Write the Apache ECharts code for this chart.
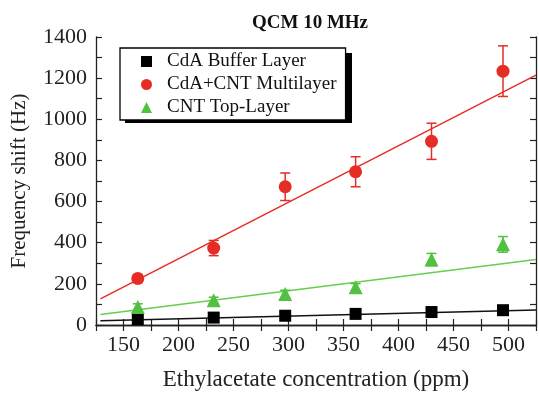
<!DOCTYPE html>
<html>
<head>
<meta charset="utf-8">
<script src="https://cdn.jsdelivr.net/npm/echarts@6/dist/echarts.min.js"></script>
<style>
  html, body { margin: 0; padding: 0; background: #fff; }
  #main { width: 539px; height: 396px; }
</style>
</head>
<body>
<div id="main"></div>
<script>
// 浓度 (ppm)
var conc = [163, 232, 297, 361, 430, 495];
// 三组频移数据 (Hz)
var bufferVals = [29, 36, 45, 54, 63, 72];
var bufferErr = [0, 0, 0, 0, 0, 0];
var multiVals = [226, 374, 672, 745, 893, 1234];
var multiErr = [20, 37, 67, 73, 88, 123];
var topVals = [88, 120, 151, 183, 318, 392];
var topErr = [15, 15, 18, 18, 30, 38];
// 拟合直线端点
var fitX = [129, 525];
var bufferFit = [21, 73];
var multiFit = [127, 1215];
var topFit = [51, 318];

var names = ['CdA Buffer Layer', 'CdA+CNT Multilayer', 'CNT Top-Layer'];
var colBlack = '#000000', colRed = '#e52d26', colGreen = '#52c040';
var FONT = 'Liberation Serif';

function pts(xs, ys) {
	var out = [];
	for (var i = 0; i < xs.length; i++) out.push([xs[i], ys[i]]);
	return out;
}
function errPts(xs, ys, es) {
	var out = [];
	for (var i = 0; i < xs.length; i++) out.push([xs[i], ys[i], es[i]]);
	return out;
}
// 误差棒
function errSeries(data, color) {
	return {
		type: 'custom',
		z: 3,
		silent: true,
		data: data,
		renderItem: function (params, api) {
			var x = api.value(0), y = api.value(1), e = api.value(2);
			if (!e) return null;
			var top = api.coord([x, y + e]);
			var bot = api.coord([x, y - e]);
			var w = 5;
			var st = { stroke: color, lineWidth: 1.5 };
			return {
				type: 'group',
				children: [
					{ type: 'line', shape: { x1: top[0], y1: top[1], x2: bot[0], y2: bot[1] }, style: st },
					{ type: 'line', shape: { x1: top[0] - w, y1: top[1], x2: top[0] + w, y2: top[1] }, style: st },
					{ type: 'line', shape: { x1: bot[0] - w, y1: bot[1], x2: bot[0] + w, y2: bot[1] }, style: st }
				]
			};
		}
	};
}
function fitSeries(ys, color) {
	return {
		type: 'line',
		data: pts(fitX, ys),
		symbol: 'none',
		z: 2,
		silent: true,
		lineStyle: { color: color, width: 1.5 }
	};
}

function axisBase() {
	return {
		axisLine: { show: true, lineStyle: { color: '#222', width: 1.3 } },
		axisTick: { show: true, inside: true, length: 6, lineStyle: { color: '#222', width: 1.2 } },
		splitLine: { show: false }
	};
}

var chart = echarts.init(document.getElementById('main'));
var option = {
	animation: false,
	backgroundColor: '#ffffff',
	title: {
		text: 'QCM 10 MHz',
		left: 305,
		textAlign: 'center',
		top: 9,
		textStyle: { fontFamily: FONT, fontSize: 19, fontWeight: 'bold', color: '#111' }
	},
	grid: { left: 96, right: 3, top: 37, bottom: 66 },
	legend: {
		left: 120,
		top: 48,
		orient: 'vertical',
		itemGap: 4,
		itemWidth: 11,
		itemHeight: 11,
		padding: [4, 9, 3, 21],
		backgroundColor: '#fff',
		borderColor: '#000',
		borderWidth: 1.3,
		textStyle: { fontFamily: FONT, fontSize: 19, color: '#111', padding: [0, 0, 0, 10] },
		data: [
			{ name: names[0], icon: 'rect' },
			{ name: names[1], icon: 'circle' },
			{ name: names[2], icon: 'triangle' }
		]
	},
	graphic: [{
		type: 'rect',
		left: 125,
		top: 53,
		shape: { width: 227, height: 70 },
		style: { fill: '#000' },
		z: 0,
		silent: true
	}],
	xAxis: [
		Object.assign(axisBase(), {
			type: 'value',
			min: 125,
			max: 525,
			interval: 25,
			name: 'Ethylacetate concentration (ppm)',
			nameLocation: 'middle',
			nameGap: 43,
			nameTextStyle: { fontFamily: FONT, fontSize: 23, color: '#222' },
			axisLabel: {
				margin: 9,
				fontFamily: FONT,
				fontSize: 22,
				color: '#222',
				formatter: function (v) { return (v % 50 === 0) ? String(v) : ''; }
			}
		}),
		Object.assign(axisBase(), {
			type: 'value',
			position: 'top',
			min: 125,
			max: 525,
			interval: 25,
			axisLabel: { show: false }
		})
	],
	yAxis: [
		Object.assign(axisBase(), {
			type: 'value',
			min: 0,
			max: 1400,
			interval: 100,
			name: 'Frequency shift (Hz)',
			nameLocation: 'middle',
			nameGap: 66,
			nameTextStyle: { fontFamily: FONT, fontSize: 21, color: '#222' },
			axisLabel: {
				margin: 9,
				fontFamily: FONT,
				fontSize: 22,
				color: '#222',
				formatter: function (v) { return (v % 200 === 0) ? String(v) : ''; }
			}
		}),
		Object.assign(axisBase(), {
			type: 'value',
			position: 'right',
			min: 0,
			max: 1400,
			interval: 100,
			axisLabel: { show: false }
		})
	],
	series: [
		fitSeries(bufferFit, '#111'),
		fitSeries(multiFit, colRed),
		fitSeries(topFit, '#66d04c'),
		errSeries(errPts(conc, multiVals, multiErr), colRed),
		errSeries(errPts(conc, topVals, topErr), colGreen),
		{
			name: names[0],
			type: 'scatter',
			z: 5,
			symbol: 'rect',
			symbolSize: 12,
			itemStyle: { color: colBlack, opacity: 1 },
			data: pts(conc, bufferVals)
		},
		{
			name: names[1],
			type: 'scatter',
			z: 5,
			symbol: 'circle',
			symbolSize: 13,
			itemStyle: { color: colRed, opacity: 1 },
			data: pts(conc, multiVals)
		},
		{
			name: names[2],
			type: 'scatter',
			z: 5,
			symbol: 'triangle',
			symbolSize: 14,
			itemStyle: { color: colGreen, opacity: 1 },
			data: pts(conc, topVals)
		}
	]
};
chart.setOption(option);
</script>
</body>
</html>
